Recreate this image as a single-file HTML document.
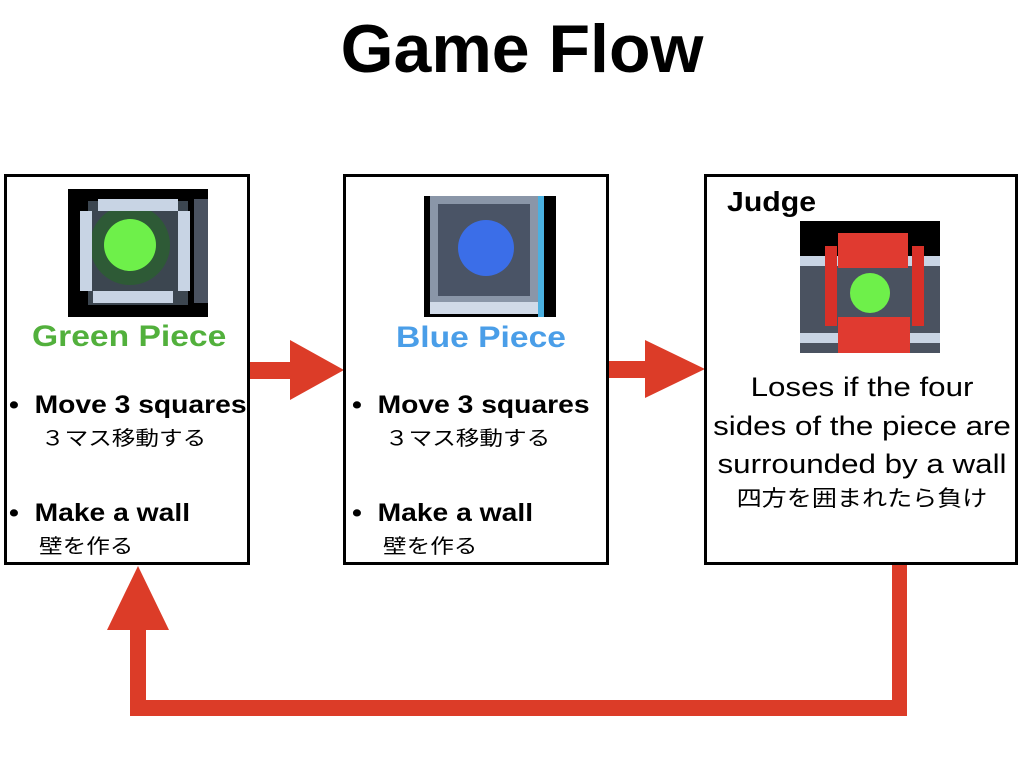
<!DOCTYPE html>
<html><head><meta charset="utf-8"><style>
body{margin:0;width:1024px;height:768px;background:#fff;position:relative;overflow:hidden;font-family:"Liberation Sans","Noto Sans CJK JP",sans-serif}
.a{position:absolute}
.box{position:absolute;border:3px solid #000;box-sizing:border-box;background:#fff}
.b{font-weight:bold;font-size:25px;color:#000;white-space:nowrap;transform:scaleX(1.13);transform-origin:0 0}
.j{font-size:20px;white-space:nowrap;transform:scaleX(1.18);transform-origin:0 0}
</style></head><body>
<div class="a" style="left:0;width:1044px;top:10px;text-align:center;font-size:68px;font-weight:bold">Game Flow</div>

<!-- arrows -->
<div class="a" style="left:246px;top:362px;width:46px;height:17px;background:#dc3c28"></div>
<div class="a" style="left:290px;top:340px;width:0;height:0;border-top:30px solid transparent;border-bottom:30px solid transparent;border-left:54px solid #dc3c28"></div>
<div class="a" style="left:605px;top:361px;width:42px;height:17px;background:#dc3c28"></div>
<div class="a" style="left:645px;top:340px;width:0;height:0;border-top:29px solid transparent;border-bottom:29px solid transparent;border-left:60px solid #dc3c28"></div>
<div class="a" style="left:892px;top:560px;width:15px;height:156px;background:#dc3c28"></div>
<div class="a" style="left:130px;top:700px;width:777px;height:16px;background:#dc3c28"></div>
<div class="a" style="left:130px;top:626px;width:16px;height:90px;background:#dc3c28"></div>
<div class="a" style="left:107px;top:566px;width:0;height:0;border-left:31px solid transparent;border-right:31px solid transparent;border-bottom:64px solid #dc3c28"></div>

<!-- box 1 -->
<div class="box" style="left:4px;top:174px;width:246px;height:391px"></div>
<svg class="a" style="left:68px;top:189px" width="140" height="128">
<rect width="140" height="128" fill="#000"/>
<rect x="20" y="12" width="100" height="104" fill="#3c4650"/>
<circle cx="62" cy="56" r="40" fill="#2e5a36"/>
<rect x="30" y="10" width="80" height="12" fill="#c8d4e4"/>
<rect x="25" y="102" width="80" height="12" fill="#c8d4e4"/>
<rect x="12" y="22" width="12" height="80" fill="#c8d4e4"/>
<rect x="110" y="22" width="12" height="80" fill="#c8d4e4"/>
<rect x="126" y="10" width="14" height="104" fill="#4a5260"/>
<circle cx="62" cy="56" r="26" fill="#6ef04a"/>
</svg>
<div class="a" style="left:32px;top:320px;font-size:30px;font-weight:bold;color:#52b03c;transform:scaleX(1.12);transform-origin:0 0;white-space:nowrap">Green Piece</div>
<div class="a b" style="left:9px;top:391px">•&nbsp;&nbsp;Move 3 squares</div>
<div class="a j" style="left:41px;top:422px">３マス移動する</div>
<div class="a b" style="left:9px;top:499px">•&nbsp;&nbsp;Make a wall</div>
<div class="a j" style="left:39px;top:530px">壁を作る</div>

<!-- box 2 -->
<div class="box" style="left:343px;top:174px;width:266px;height:391px"></div>
<svg class="a" style="left:424px;top:196px" width="132" height="121">
<rect width="132" height="121" fill="#000"/>
<rect x="6" y="0" width="108" height="108" fill="#8a96a8"/>
<rect x="14" y="8" width="92" height="92" fill="#4a5466"/>
<rect x="6" y="106" width="110" height="12" fill="#d0dae8"/>
<rect x="114" y="0" width="6" height="121" fill="#4ab0e0"/>
<circle cx="62" cy="52" r="28" fill="#3b6ee8"/>
</svg>
<div class="a" style="left:396px;top:321px;font-size:30px;font-weight:bold;color:#4a9ee8;transform:scaleX(1.12);transform-origin:0 0;white-space:nowrap">Blue Piece</div>
<div class="a b" style="left:352px;top:391px">•&nbsp;&nbsp;Move 3 squares</div>
<div class="a j" style="left:385px;top:422px">３マス移動する</div>
<div class="a b" style="left:352px;top:499px">•&nbsp;&nbsp;Make a wall</div>
<div class="a j" style="left:383px;top:530px">壁を作る</div>

<!-- box 3 -->
<div class="box" style="left:704px;top:174px;width:314px;height:391px"></div>
<div class="a" style="left:727px;top:186px;font-size:28px;font-weight:bold;transform:scaleX(1.08);transform-origin:0 0">Judge</div>
<svg class="a" style="left:800px;top:221px" width="140" height="132">
<rect width="140" height="132" fill="#000"/>
<rect x="0" y="35" width="140" height="97" fill="#4a5260"/>
<rect x="0" y="35" width="140" height="10" fill="#c8d4e4"/>
<rect x="0" y="112" width="140" height="10" fill="#c8d4e4"/>
<rect x="38" y="12" width="70" height="35" fill="#e03a30"/>
<rect x="25" y="25" width="12" height="80" fill="#d83028"/>
<rect x="112" y="25" width="12" height="80" fill="#d83028"/>
<rect x="38" y="96" width="72" height="36" fill="#e03a30"/>
<circle cx="70" cy="72" r="20" fill="#6ef04a"/>
</svg>
<div class="a" style="left:0;top:368px;width:1726px;text-align:center;font-size:27px;line-height:38.5px;transform:scaleX(0.5)  ;transform-origin:0 0;display:none"></div>
<div class="a" style="left:862px;top:368px;width:0;">
<div style="position:absolute;left:-200px;width:400px;text-align:center;font-size:27px;line-height:38.5px;transform:scaleX(1.16);transform-origin:50% 0">Loses if the four<br>sides of the piece are<br>surrounded by a wall</div>
<div style="position:absolute;left:-200px;top:113px;width:400px;text-align:center;font-size:22px;transform:scaleX(1.14);transform-origin:50% 0">四方を囲まれたら負け</div>
</div>
</body></html>
